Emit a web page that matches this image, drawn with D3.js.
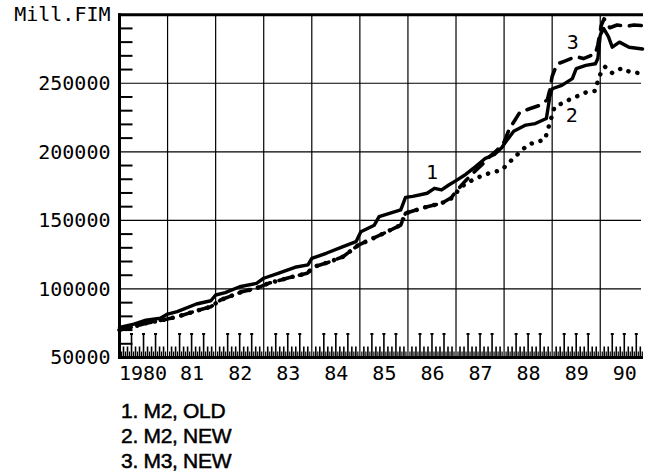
<!DOCTYPE html>
<html>
<head>
<meta charset="utf-8">
<script src="https://cdn.jsdelivr.net/npm/d3@7/dist/d3.min.js"></script>
<style>
  html, body { margin: 0; padding: 0; background: #fff; }
  svg { display: block; }
</style>
</head>
<body>
<svg id="chart" width="645" height="474"></svg>
<script>
// ---- data (decimal years, million FIM) ----
const yTickValues = [50000, 100000, 150000, 200000, 250000, 300000];
const yTopLabel = "Mill.FIM";
const xTickValues = [1980.5, 1981.5, 1982.5, 1983.5, 1984.5, 1985.5, 1986.5, 1987.5, 1988.5, 1989.5, 1990.5];
const xTickLabels = ["1980", "81", "82", "83", "84", "85", "86", "87", "88", "89", "90"];
const legendLabels = ["1. M2, OLD", "2. M2, NEW", "3. M3, NEW"];

const m2OldT = [1980.0, 1980.3, 1980.55, 1980.85, 1981.0, 1981.2, 1981.6, 1981.9, 1982.0, 1982.2, 1982.5, 1982.85,
  1983.0, 1983.3, 1983.65, 1983.92, 1984.0, 1984.3, 1984.65, 1984.92, 1985.02, 1985.3, 1985.4, 1985.85, 1985.95,
  1986.1, 1986.4, 1986.55, 1986.7, 1986.85, 1987.0, 1987.2, 1987.4, 1987.6, 1987.8, 1987.95, 1988.05, 1988.2,
  1988.45, 1988.65, 1988.88, 1988.95, 1989.0, 1989.2, 1989.42, 1989.5, 1989.7, 1989.9, 1989.95, 1990.0, 1990.07,
  1990.17, 1990.25, 1990.4, 1990.6, 1990.88];
const m2OldV = [72000, 74400, 77300, 78600, 81700, 83400, 89000, 91400, 95600, 97300, 101600, 104100,
  107800, 111400, 115800, 117500, 122300, 126000, 130800, 134500, 141700, 146500, 152700, 157600, 166800,
  167500, 169800, 173400, 172200, 175800, 179000, 183500, 189000, 195000, 198000, 203000, 208000, 215000,
  219500, 220600, 224300, 240000, 246000, 248500, 253400, 260700, 263000, 264200, 268000, 285000, 290000,
  284000, 276300, 280000, 276300, 275000];

const m2NewT = [1980.0, 1980.25, 1980.55, 1980.9, 1981.2, 1981.55, 1981.9, 1982.1, 1982.55, 1982.85, 1983.1,
  1983.5, 1983.9, 1984.05, 1984.35, 1984.65, 1984.97, 1985.35, 1985.85, 1985.95, 1986.4, 1986.7, 1986.9, 1987.05,
  1987.2, 1987.5, 1987.7, 1987.95, 1988.2, 1988.5, 1988.85, 1988.95, 1989.05, 1989.35, 1989.7, 1989.9, 1989.97,
  1990.1, 1990.25, 1990.45, 1990.6, 1990.88];
const m2NewV = [70000, 72000, 75000, 77300, 79700, 83500, 87000, 91900, 98000, 100500, 104100,
  108000, 111400, 116200, 119500, 123500, 132000, 138100, 146600, 155200, 160000, 162500, 166000, 172000,
  177000, 181900, 184600, 186700, 195500, 205300, 209000, 221000, 232700, 237900, 243300, 244500, 254800,
  262000, 257500, 261000, 258500, 257000];

const m3NewT = [1980.0, 1980.25, 1980.55, 1980.9, 1981.2, 1981.55, 1981.9, 1982.1, 1982.55, 1982.85, 1983.1,
  1983.5, 1983.9, 1984.05, 1984.35, 1984.65, 1984.97, 1985.35, 1985.85, 1985.95, 1986.4, 1986.7, 1986.9, 1987.0,
  1987.2, 1987.4, 1987.55, 1987.7, 1987.85, 1988.0, 1988.1, 1988.33, 1988.5, 1988.75, 1988.9, 1988.95, 1989.0,
  1989.1, 1989.25, 1989.5, 1989.65, 1989.9, 1989.95, 1990.02, 1990.08, 1990.2, 1990.35, 1990.55, 1990.7, 1990.88];
const m3NewV = [70000, 72000, 75000, 77300, 79700, 83500, 87000, 91900, 98000, 100500, 104100,
  108000, 111400, 116200, 119500, 123500, 132000, 138100, 146600, 155200, 160000, 162500, 166500, 171000,
  179000, 186000, 191000, 196500, 201000, 207000, 216000, 229000, 231000, 234000, 238000, 245000, 255000,
  264000, 266000, 269500, 268000, 271500, 278000, 292000, 297000, 290500, 292500, 291500, 292500, 292000];

const seriesLabels = [
  { text: "1", t: 1986.5, v: 185300 },
  { text: "2", t: 1989.41, v: 226800 },
  { text: "3", t: 1989.43, v: 280400 }
];

// ---- drawing ----
const svg = d3.select("#chart");
const x = d3.scaleLinear().domain([1980, 1990.9]).range([119.5, 643.5]);
const y = d3.scaleLinear().domain([50000, 300000]).range([357.5, 14.7]);
const monoFont = "'DejaVu Sans Mono', 'Liberation Mono', monospace";

const g = svg.append("g");

// horizontal gridlines
g.selectAll("line.hgrid").data([100000, 150000, 200000, 250000]).join("line")
  .attr("x1", x(1980)).attr("x2", 641)
  .attr("y1", d => y(d)).attr("y2", d => y(d))
  .attr("stroke", "#000").attr("stroke-width", 1.2);

// vertical gridlines (year boundaries)
g.selectAll("line.vgrid").data(d3.range(1981, 1991)).join("line")
  .attr("x1", d => x(d)).attr("x2", d => x(d))
  .attr("y1", y(50000)).attr("y2", y(300000))
  .attr("stroke", "#000").attr("stroke-width", 1.2);

// y minor ticks every 10000
const yMinor = d3.range(60000, 300000, 10000).filter(d => d % 50000 !== 0);
g.selectAll("line.ymin").data(yMinor).join("line")
  .attr("x1", x(1980)).attr("x2", x(1980) + 13)
  .attr("y1", d => y(d)).attr("y2", d => y(d))
  .attr("stroke", "#000").attr("stroke-width", 2);

// x monthly ticks
const months = d3.range(1, 131).filter(i => i % 12 !== 0);
g.selectAll("line.xmon").data(months).join("line")
  .attr("x1", i => x(1980 + i / 12)).attr("x2", i => x(1980 + i / 12))
  .attr("y1", y(50000)).attr("y2", i => y(50000) - (i % 3 === 0 ? 24 : 11))
  .attr("stroke", "#000").attr("stroke-width", 1.6);
g.selectAll("line.xcap").data(months.filter(i => i % 3 === 0)).join("line")
  .attr("x1", i => x(1980 + i / 12) - 1.5).attr("x2", i => x(1980 + i / 12) + 1.5)
  .attr("y1", y(50000) - 23.5).attr("y2", y(50000) - 23.5)
  .attr("stroke", "#000").attr("stroke-width", 2);
const halfMonths = d3.range(0, 131);
g.selectAll("line.xhalf").data(halfMonths).join("line")
  .attr("x1", i => x(1980 + (i + 0.5) / 12)).attr("x2", i => x(1980 + (i + 0.5) / 12))
  .attr("y1", y(50000)).attr("y2", y(50000) - 6)
  .attr("stroke", "#000").attr("stroke-width", 1.2);

// frame: top, left, bottom
g.append("line").attr("x1", x(1980) - 1.5).attr("x2", 643).attr("y1", y(300000)).attr("y2", y(300000))
  .attr("stroke", "#000").attr("stroke-width", 3);
g.append("line").attr("x1", x(1980)).attr("x2", x(1980)).attr("y1", y(300000) - 1.5).attr("y2", y(50000) + 1.5)
  .attr("stroke", "#000").attr("stroke-width", 3);
g.append("line").attr("x1", x(1980) - 1.5).attr("x2", 643).attr("y1", y(50000)).attr("y2", y(50000))
  .attr("stroke", "#000").attr("stroke-width", 3);

// series lines
const toPts = (T, V) => T.map((t, i) => [t, V[i]]);
const line = d3.line().x(d => x(d[0])).y(d => y(d[1]));

g.append("path").datum(toPts(m2NewT, m2NewV)).attr("d", line)
  .attr("fill", "none").attr("stroke", "#000").attr("stroke-width", 4.5)
  .attr("stroke-linecap", "round").attr("stroke-dasharray", "0.1,9");
g.append("path").datum(toPts(m3NewT, m3NewV)).attr("d", line)
  .attr("fill", "none").attr("stroke", "#000").attr("stroke-width", 3.6)
  .attr("stroke-linecap", "round").attr("stroke-linejoin", "round").attr("stroke-dasharray", "12,9");
g.append("path").datum(toPts(m2OldT, m2OldV)).attr("d", line)
  .attr("fill", "none").attr("stroke", "#000").attr("stroke-width", 3.4)
  .attr("stroke-linejoin", "round").attr("stroke-linecap", "round");

// series number labels
g.selectAll("text.slab").data(seriesLabels).join("text")
  .attr("x", d => x(d.t)).attr("y", d => y(d.v))
  .attr("text-anchor", "middle").attr("dominant-baseline", "central")
  .attr("font-family", monoFont).attr("font-size", 20).attr("fill", "#000")
  .text(d => d.text);

// y axis labels
const yAxis = d3.axisLeft(y).tickValues(yTickValues).tickSize(0).tickPadding(9)
  .tickFormat(d => d === 300000 ? yTopLabel : String(d));
const ya = svg.append("g").attr("transform", `translate(${x(1980)},0)`).call(yAxis);
ya.select(".domain").remove();
ya.selectAll("text").attr("font-family", monoFont).attr("font-size", 20).attr("fill", "#000");
ya.selectAll(".tick").filter(d => d === 300000).select("text").attr("dy", "0.3em");

// x axis labels
const xAxis = d3.axisBottom(x).tickValues(xTickValues).tickSize(0).tickPadding(8)
  .tickFormat((d, i) => xTickLabels[i]);
const xa = svg.append("g").attr("transform", `translate(0,${y(50000)})`).call(xAxis);
xa.select(".domain").remove();
xa.selectAll("text").attr("font-family", monoFont).attr("font-size", 20).attr("fill", "#000");
xa.selectAll(".tick").filter((d, i) => i === 0).select("text").attr("dx", "-0.05em");

// legend
svg.selectAll("text.leg").data(legendLabels).join("text")
  .attr("x", 121).attr("y", (d, i) => 418 + i * 25.2)
  .attr("font-family", "'Liberation Sans', Arial, sans-serif").attr("font-size", 21)
  .attr("fill", "#000").attr("stroke", "#000").attr("stroke-width", 0.5)
  .attr("letter-spacing", "-0.3px")
  .text(d => d);
</script>
</body>
</html>
